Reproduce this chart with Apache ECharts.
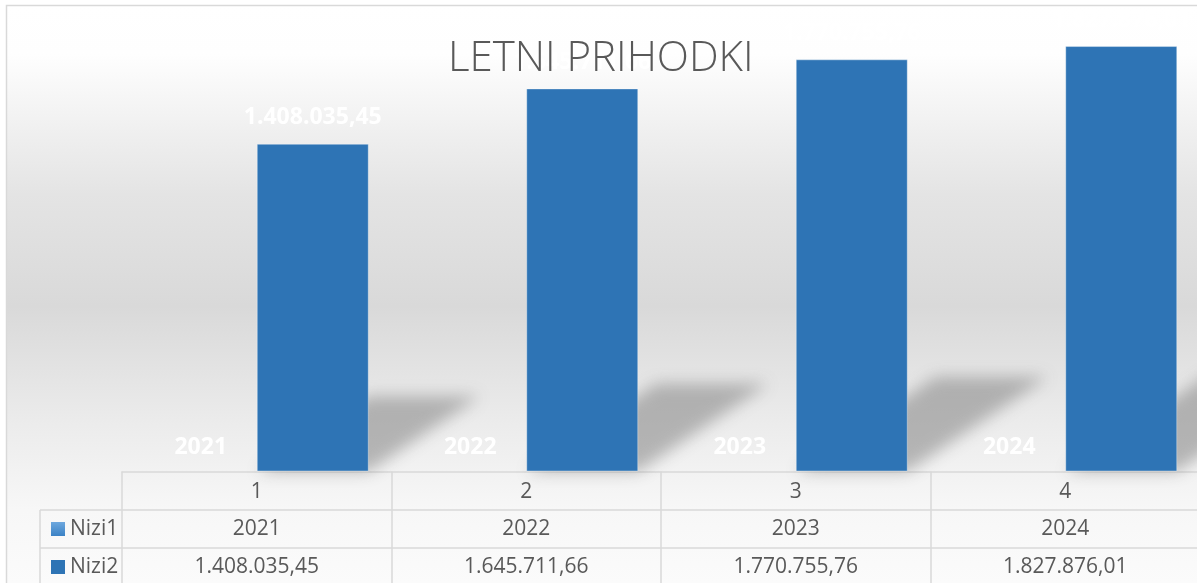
<!DOCTYPE html>
<html>
<head>
<meta charset="utf-8">
<script src="https://cdn.jsdelivr.net/npm/echarts@6/dist/echarts.min.js"></script>
<style>
    html, body { margin: 0; padding: 0; background: #fff; }
    #chart { width: 1197px; height: 583px; }
</style>
</head>
<body>
<div id="chart"></div>
<script>
// podatki
var categories = ['1', '2', '3', '4'];
var nizi1 = [2021, 2022, 2023, 2024];
var nizi2 = [1408035.45, 1645711.66, 1770755.76, 1827876.01];
var seriesNames = ['Nizi1', 'Nizi2'];

var barW = 112;
var gridColor = '#d9d9d9';
var textColor = '#595959';
var font = '"Open Sans", "Noto Sans", sans-serif';

// 1408035.45 -> 1.408.035,45
function fmt(v) {
    var parts = v.toFixed(2).split('.');
    return parts[0].replace(/\B(?=(\d{3})+(?!\d))/g, '.') + ',' + parts[1];
}

// ena legenda za vsako vrstico tabele
function legendRow(name, top) {
    return {
        data: [name],
        left: 46,
        top: top,
        itemWidth: 14,
        itemHeight: 14,
        icon: 'rect',
        selectedMode: false,
        itemStyle: { borderWidth: 0 },
        textStyle: { fontFamily: font, fontSize: 21, color: textColor }
    };
}

var myChart = echarts.init(document.getElementById('chart'));

var option = {
    animation: false,
    title: {
        text: 'LETNI PRIHODKI',
        left: 443,
        top: 33,
        textStyle: { fontFamily: font, fontSize: 42, fontWeight: 300, color: textColor }
    },
    legend: [legendRow(seriesNames[0], 513.5), legendRow(seriesNames[1], 551.5)],
    grid: { left: 122, top: 6, width: 1078, height: 465.5, outerBoundsMode: 'none' },
    xAxis: {
        type: 'category',
        data: categories,
        axisLine: { lineStyle: { color: gridColor, width: 1.5 } },
        axisTick: { show: true, interval: 0, length: 120, lineStyle: { color: gridColor, width: 1.5 } },
        axisLabel: {
            interval: 0,
            margin: 1.5,
            verticalAlign: 'top',
            lineHeight: 37.5,
            fontFamily: font,
            fontSize: 21,
            color: textColor,
            formatter: function (val, i) {
                return val + '\n' + nizi1[i] + '\n' + fmt(nizi2[i]);
            }
        }
    },
    yAxis: { type: 'value', min: 0, max: 2000000, show: false, splitLine: { show: false } },
    graphic: [
        {
            type: 'rect', z: -100, silent: true,
            shape: { x: 6.5, y: 5.5, width: 1300, height: 700 },
            style: {
                stroke: gridColor, lineWidth: 1.5,
                fill: new echarts.graphic.LinearGradient(0, 0, 0, 1, [
                    { offset: 0, color: '#ffffff' },
                    { offset: 0.07, color: '#fefefe' },
                    { offset: 0.27, color: '#e4e4e4' },
                    { offset: 0.43, color: '#d9d9d9' },
                    { offset: 0.6, color: '#ececec' },
                    { offset: 0.72, color: '#f7f7f7' },
                    { offset: 0.85, color: '#fcfcfc' },
                    { offset: 1, color: '#ffffff' }
                ])
            }
        },
        // vrstice tabele
        { type: 'line', silent: true, shape: { x1: 40, y1: 510, x2: 1200, y2: 510 }, style: { stroke: gridColor, lineWidth: 1.5 } },
        { type: 'line', silent: true, shape: { x1: 40, y1: 548, x2: 1200, y2: 548 }, style: { stroke: gridColor, lineWidth: 1.5 } },
        { type: 'line', silent: true, shape: { x1: 40, y1: 510, x2: 40, y2: 600 }, style: { stroke: gridColor, lineWidth: 1.5 } }
    ],
    series: [
        {
            // senca za stolpci
            type: 'custom',
            silent: true,
            z: 1,
            clip: false,
            data: nizi2.map(function (v, i) { return [i, v]; }),
            encode: { x: 0, y: 1 },
            renderItem: function (params, api) {
                var base = api.coord([api.value(0), 0]);
                var top = api.coord([api.value(0), api.value(1)]);
                var H = base[1] - top[1];
                var xl = base[0], xr = base[0] + barW;
                var s = H * 0.34, h = H * 0.23;
                var off = 3000;
                return {
                    type: 'polygon',
                    shape: {
                        points: [
                            [xl - off, base[1]], [xr - off, base[1]],
                            [xr + s - off, base[1] - h], [xl + s - off, base[1] - h]
                        ]
                    },
                    style: {
                        fill: '#000',
                        shadowBlur: 16,
                        shadowColor: 'rgba(120,120,120,0.5)',
                        shadowOffsetX: off
                    }
                };
            }
        },
        {
            name: 'Nizi1',
            type: 'bar',
            // vrednosti so premajhne, stolpec se ne vidi
            data: nizi1.map(function (v) { return { value: v, itemStyle: { color: 'rgba(0,0,0,0)' } }; }),
            barWidth: barW,
            barGap: '0%',
            itemStyle: {
                color: new echarts.graphic.LinearGradient(0, 0, 0, 1, [
                    { offset: 0, color: '#6ea8de' },
                    { offset: 1, color: '#3b82c5' }
                ])
            },
            label: {
                show: true, position: 'top', distance: 11,
                fontFamily: font, fontSize: 23, fontWeight: 'bold', color: '#fff', lineHeight: 26
            }
        },
        {
            name: 'Nizi2',
            type: 'bar',
            data: nizi2,
            barWidth: barW,
            barGap: '0%',
            itemStyle: { color: '#2e74b5', borderColor: 'rgba(255,255,255,0.35)', borderWidth: 1 },
            label: {
                show: true, position: 'top', distance: 13,
                fontFamily: font, fontSize: 23, fontWeight: 'bold', color: '#fff', lineHeight: 26,
                formatter: function (p) { return fmt(p.value); }
            }
        }
    ]
};

myChart.setOption(option);
</script>
</body>
</html>
